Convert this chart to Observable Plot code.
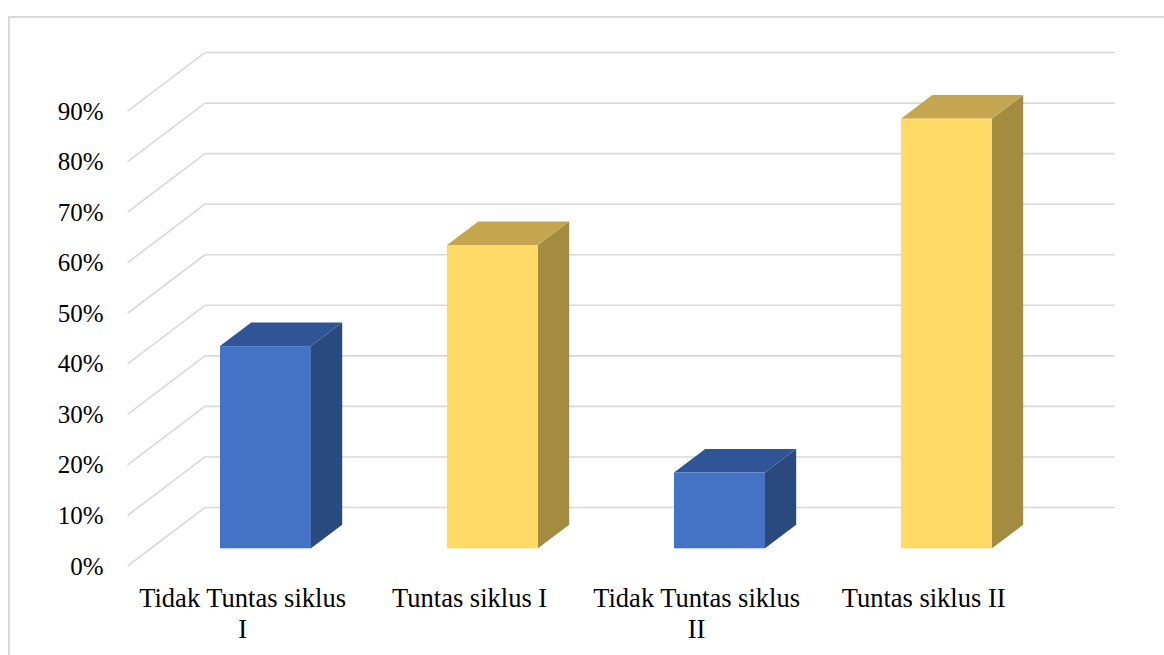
<!DOCTYPE html>
<html>
<head>
<meta charset="utf-8">
<script src="https://cdn.jsdelivr.net/npm/d3@7"></script>
<script src="https://cdn.jsdelivr.net/npm/@observablehq/plot@0.6"></script>
<style>
  html, body { margin: 0; padding: 0; background: #ffffff; }
  #wrap { position: relative; width: 1164px; height: 655px; overflow: hidden; background: #fff; }
  #border { position: absolute; left: 7.5px; top: 15.5px; width: 1300px; height: 800px; border: 2px solid #d9d9d9; box-sizing: border-box; }
  #chart { position: absolute; left: 0; top: 0; }
</style>
</head>
<body>
<div id="wrap"><div id="border"></div><div id="chart"></div></div>
<script>
// ---- data ----
const categories = ["Tidak Tuntas siklus I", "Tuntas siklus I", "Tidak Tuntas siklus II", "Tuntas siklus II"];
const values = [0.40, 0.60, 0.15, 0.85];
const status = ["Tidak Tuntas", "Tuntas", "Tidak Tuntas", "Tuntas"];
const xTickLabels = ["Tidak Tuntas siklus\nI", "Tuntas siklus I", "Tidak Tuntas siklus\nII", "Tuntas siklus II"];
const yTicks = [0, 0.1, 0.2, 0.3, 0.4, 0.5, 0.6, 0.7, 0.8, 0.9];

const palette = {
  "Tidak Tuntas": { front: "#4472C4", top: "#2F5597", side: "#2A4A7F" },
  "Tuntas":       { front: "#FFD966", top: "#C3A64F", side: "#A38B40" }
};

const data = categories.map((c, i) => ({ category: c, value: values[i], status: status[i], label: xTickLabels[i] }));

// 3D projection offsets (relative to the bar front plane)
const FRONT = [-23.4, 17.7];
const BACK = [54.6, -41.3];
const DEPTH = [31.2, -23.6];
const GRID = "#d9d9d9";

function diagonals(index, scales, values, dims) {
  const { y } = scales;
  const g = d3.create("svg:g");
  const xl = dims.marginLeft;
  for (const t of yTicks) {
    const yy = y(t);
    g.append("line")
      .attr("x1", xl + FRONT[0]).attr("y1", yy + FRONT[1])
      .attr("x2", xl + BACK[0]).attr("y2", yy + BACK[1])
      .attr("stroke", GRID).attr("stroke-width", 1.6);
  }
  return g.node();
}

function bars3d(index, scales) {
  const { x, y } = scales;
  const bw = typeof x.bandwidth === "function" ? x.bandwidth() : x.bandwidth;
  const g = d3.create("svg:g");
  for (const i of index) {
    const d = data[i];
    const c = palette[d.status];
    const x0 = x(d.category), x1 = x0 + bw, yt = y(d.value), yb = y(0);
    const [dx, dy] = DEPTH;
    g.append("path")
      .attr("d", `M${x1},${yt}L${x1 + dx},${yt + dy}L${x1 + dx},${yb + dy}L${x1},${yb}Z`)
      .attr("fill", c.side);
    g.append("path")
      .attr("d", `M${x0},${yt}L${x0 + dx},${yt + dy}L${x1 + dx},${yt + dy}L${x1},${yt}Z`)
      .attr("fill", c.top);
    g.append("rect")
      .attr("x", x0).attr("y", yt).attr("width", bw).attr("height", yb - yt)
      .attr("fill", c.front);
  }
  return g.node();
}

const chart = Plot.plot({
  width: 1164,
  height: 655,
  marginLeft: 151,
  marginRight: 104,
  marginTop: 93.35,
  marginBottom: 106.7,
  style: { background: "transparent", fontFamily: "'Liberation Serif', 'Times New Roman', serif", color: "#000" },
  x: { domain: categories, paddingInner: 0.6, paddingOuter: 0.3, axis: null },
  y: { domain: [0, 0.9], axis: null },
  color: { type: "identity" },
  marks: [
    Plot.ruleY(yTicks, { y: d => d, stroke: GRID, strokeWidth: 1.6, dx: BACK[0], dy: BACK[1] }),
    Plot.ruleY(yTicks, { y: d => d, render: diagonals }),
    Plot.barY(data, { x: "category", y: "value", fill: d => palette[d.status].front, render: bars3d }),
    Plot.text(yTicks, {
      y: d => d, text: d => `${Math.round(d * 100)}%`,
      frameAnchor: "left", textAnchor: "end", dx: -48, dy: FRONT[1],
      fontSize: 25, fill: "#000", fontFamily: "'Liberation Serif', 'Times New Roman', serif"
    }),
    Plot.text(data, {
      x: "category", text: "label", frameAnchor: "bottom", lineAnchor: "top",
      dx: FRONT[0], dy: 36, fontSize: 26.5, lineHeight: 1.17, fill: "#000",
      fontFamily: "'Liberation Serif', 'Times New Roman', serif"
    })
  ]
});
document.getElementById("chart").appendChild(chart);
</script>
</body>
</html>
